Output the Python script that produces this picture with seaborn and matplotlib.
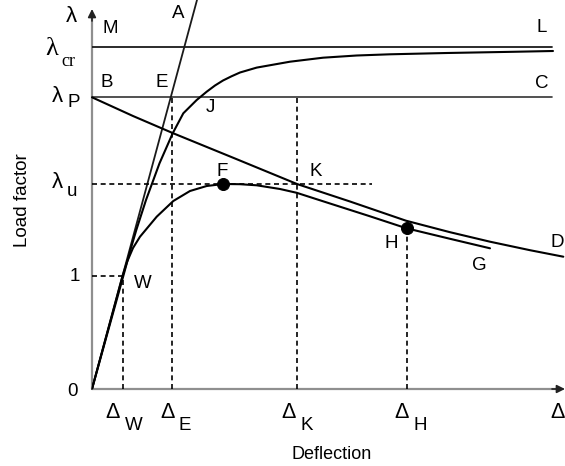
import matplotlib
matplotlib.use("Agg")
import matplotlib.pyplot as plt
import seaborn as sns

# ---- data (arbitrary deflection / load-factor units) ----
lam_one, lam_u, lam_P, lam_cr = 113, 205, 291.7, 342.3
d_W, d_E, d_K, d_H = 30.5, 80, 205, 314.5
x_end, y_end = 473, 380

elastic_x = [0, 105]
elastic_y = [0, 389]

crit_x = [0, 16.3, 31.3, 38.4, 44.3, 54, 67.5, 80.7, 91.3, 104.7, 114.7, 123, 131,
          139.5, 148, 164.7, 198, 231, 264.7, 298, 354.7, 421, 461]
crit_y = [0, 59, 113, 139, 159, 189, 225.7, 255.7, 275.7, 289, 297.3, 303.5, 308.5,
          312.7, 316.5, 321.4, 327.3, 331.3, 333.5, 334.7, 336, 337.2, 338]

ep_x = [0, 15.9, 30.5, 35, 41, 48, 64.7, 81.3, 98, 114.7, 131.3, 148, 164.7, 188,
        204.7, 238, 278, 314.5, 358, 398]
ep_y = [0, 59, 113, 127, 141, 152.3, 172.3, 188, 198, 203, 205, 204.8, 203.7, 200,
        196.2, 185.5, 172.7, 160.7, 150.2, 140.7]

rp_x = [0, 41, 81.3, 143, 205, 258, 314, 358, 398, 438, 471.3]
rp_y = [291.7, 273, 255.7, 230.5, 205, 187.5, 168.3, 156.8, 147.3, 138.8, 132.3]

pts_x = [131.3, 314.5]
pts_y = [205, 160.7]

sns.set_theme(style="white")
plt.rcParams['font.family'] = ['Liberation Sans', 'DejaVu Sans']

fig = plt.figure(figsize=(5.65, 4.66), dpi=100)
ax = fig.add_axes([92 / 565, 77 / 466, 471 / 565, 379 / 466])
ax.set_xlim(0, 471)
ax.set_ylim(0, 379)
ax.axis("off")

gray = "#8f8f8f"
# axes with arrows
ax.plot([0, 0], [0, 372], color=gray, lw=1.6, clip_on=False, zorder=1)
ax.plot([0, 466], [0, 0], color=gray, lw=1.6, clip_on=False, zorder=1)
ax.annotate("", xy=(0, y_end), xytext=(0, 368), annotation_clip=False,
            arrowprops=dict(arrowstyle="-|>", color="#222222", lw=1.2, mutation_scale=12,
                            shrinkA=0, shrinkB=0))
ax.annotate("", xy=(x_end, 0), xytext=(460, 0), annotation_clip=False,
            arrowprops=dict(arrowstyle="-|>", color="#222222", lw=1.2, mutation_scale=12,
                            shrinkA=0, shrinkB=0))

lw_main = 1.5
# horizontal limit lines
ax.plot([0, 460], [lam_cr, lam_cr], color="#1a1a1a", lw=1.3)
ax.plot([0, 460], [lam_P, lam_P], color="#333333", lw=1.2)

# curves
sns.lineplot(x=elastic_x, y=elastic_y, sort=False, estimator=None, color="#1a1a1a",
             lw=1.3, ax=ax, clip_on=False)
sns.lineplot(x=crit_x, y=crit_y, sort=False, estimator=None, color="black",
             lw=lw_main, ax=ax)
sns.lineplot(x=ep_x, y=ep_y, sort=False, estimator=None, color="black",
             lw=lw_main, ax=ax)
sns.lineplot(x=rp_x, y=rp_y, sort=False, estimator=None, color="black",
             lw=lw_main, ax=ax, clip_on=False)
sns.scatterplot(x=pts_x, y=pts_y, color="black", s=75, edgecolor="black", zorder=5, ax=ax)

# dashed guide lines
ds = (0, (3, 2.2))
dkw = dict(color="black", lw=1.2, linestyle=ds)
ax.plot([0, d_W], [lam_one, lam_one], **dkw)
ax.plot([d_W, d_W], [0, lam_one], **dkw)
ax.plot([d_E, d_E], [0, lam_P], **dkw)
ax.plot([0, 280], [lam_u, lam_u], **dkw)
ax.plot([d_K, d_K], [0, lam_P], **dkw)
ax.plot([d_H, d_H], [0, pts_y[1]], **dkw)

fs = 13.5
def T(x, y, s, size=fs, **kw):
    kw.setdefault("va", "center")
    ax.text(x, y, s, fontsize=size, ha="center", color="black", **kw)

for s, x, y in [("M", 18, 360.5), ("A", 86.5, 375), ("L", 450, 361), ("B", 14.5, 306.5),
                ("E", 70, 306.5), ("C", 449.5, 306), ("J", 118, 281.5), ("F", 130, 218),
                ("K", 224, 218), ("H", 299, 145), ("G", 387.5, 124), ("D", 465.5, 146.5),
                ("W", 50.5, 105.5)]:
    T(x, y, s)

# load-factor labels
lam_fs = 16
T(-20.5, 373, "λ", size=lam_fs)
T(-40, 340, "λ", size=19, family="Liberation Serif")
T(-23.5, 327, "cr", size=13, family="Liberation Serif")
T(-34.5, 292.5, "λ", size=lam_fs)
T(-18, 286.5, "P")
T(-34.5, 206.5, "λ", size=lam_fs)
T(-20, 198, "u")
T(-17, 112.5, "1")
T(-19, -2.5, "0")

# deflection labels
for dx, sx, sub in [(21, 41.5, "W"), (76, 93, "E"), (197, 215, "K"), (310, 328.6, "H")]:
    T(dx, -24, "Δ", size=15.5)
    T(sx, -37, sub)
ax.text(458, -24, "Δ", fontsize=15.5, ha="left", va="center", color="black")

T(240, -70, "Deflection", size=13, va="baseline")
T(-69, 189, "Load factor", size=13.5, rotation=90)

fig.savefig("out.png", dpi=100)
